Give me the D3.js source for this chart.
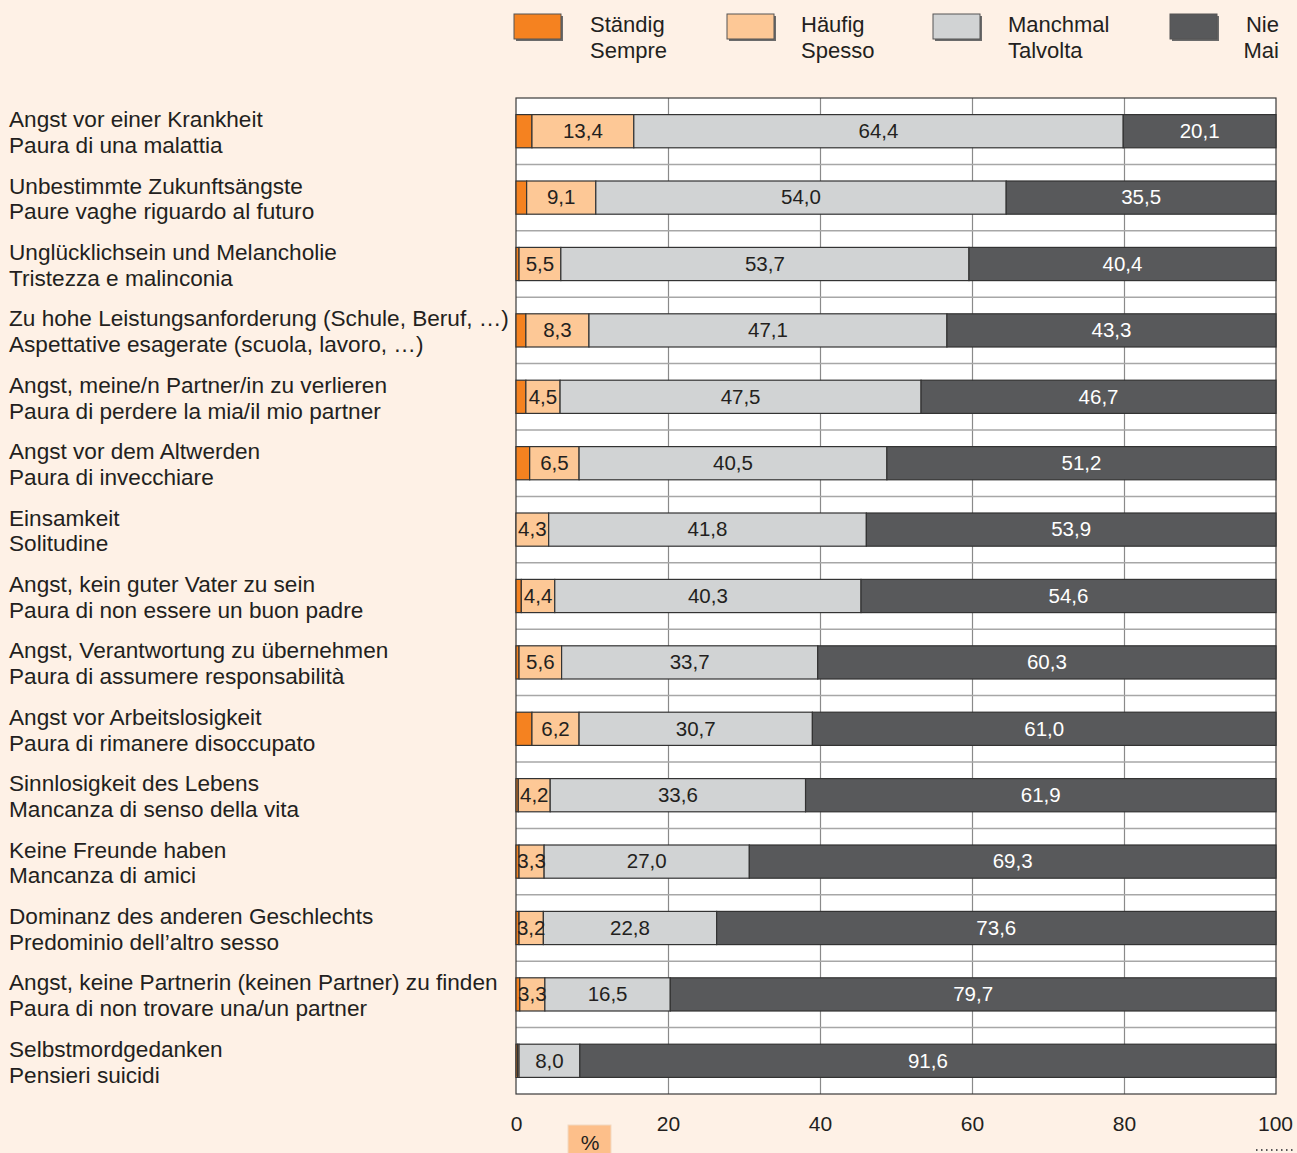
<!DOCTYPE html>
<html>
<head>
<meta charset="utf-8">
<title>Ängste / Paure</title>
<script src="https://cdn.jsdelivr.net/npm/d3@7"></script>
<style>
  body { margin: 0; background: #fef1e6; }
  svg { display: block; font-family: "Liberation Sans", Arial, sans-serif; }
</style>
</head>
<body>
<svg id="chart" width="1297" height="1153"></svg>
<script>
// categories (German / Italian)
var labelsDe = [
  'Angst vor einer Krankheit',
  'Unbestimmte Zukunftsängste',
  'Unglücklichsein und Melancholie',
  'Zu hohe Leistungsanforderung (Schule, Beruf, …)',
  'Angst, meine/n Partner/in zu verlieren',
  'Angst vor dem Altwerden',
  'Einsamkeit',
  'Angst, kein guter Vater zu sein',
  'Angst, Verantwortung zu übernehmen',
  'Angst vor Arbeitslosigkeit',
  'Sinnlosigkeit des Lebens',
  'Keine Freunde haben',
  'Dominanz des anderen Geschlechts',
  'Angst, keine Partnerin (keinen Partner) zu finden',
  'Selbstmordgedanken'
];
var labelsIt = [
  'Paura di una malattia',
  'Paure vaghe riguardo al futuro',
  'Tristezza e malinconia',
  'Aspettative esagerate (scuola, lavoro, …)',
  'Paura di perdere la mia/il mio partner',
  'Paura di invecchiare',
  'Solitudine',
  'Paura di non essere un buon padre',
  'Paura di assumere responsabilità',
  'Paura di rimanere disoccupato',
  'Mancanza di senso della vita',
  'Mancanza di amici',
  'Predominio dell’altro sesso',
  'Paura di non trovare una/un partner',
  'Pensieri suicidi'
];

// series values in %
var staendig = [2.1, 1.4, 0.4, 1.3, 1.3, 1.8, 0.0, 0.7, 0.4, 2.1, 0.3, 0.4, 0.4, 0.5, 0.2];
var haeufig  = [13.4, 9.1, 5.5, 8.3, 4.5, 6.5, 4.3, 4.4, 5.6, 6.2, 4.2, 3.3, 3.2, 3.3, 0.2];
var manchmal = [64.4, 54.0, 53.7, 47.1, 47.5, 40.5, 41.8, 40.3, 33.7, 30.7, 33.6, 27.0, 22.8, 16.5, 8.0];
var nie      = [20.1, 35.5, 40.4, 43.3, 46.7, 51.2, 53.9, 54.6, 60.3, 61.0, 61.9, 69.3, 73.6, 79.7, 91.6];

var xTicks = [0, 20, 40, 60, 80, 100];

var seriesKeys = ['staendig', 'haeufig', 'manchmal', 'nie'];
var seriesDe = ['Ständig', 'Häufig', 'Manchmal', 'Nie'];
var seriesIt = ['Sempre', 'Spesso', 'Talvolta', 'Mai'];
var colors = ['#f58220', '#fdc896', '#d1d3d4', '#58595b'];
var textColors = [null, '#231f20', '#231f20', '#ffffff'];
var showLabel = [false, true, true, true];

// table for the stack
var rows = labelsDe.map(function (d, i) {
  return { id: i, staendig: staendig[i], haeufig: haeufig[i], manchmal: manchmal[i], nie: nie[i] };
});

var svg = d3.select('#chart');
var plot = { left: 516, right: 1276, top: 98, bottom: 1094 };

var x = d3.scaleLinear().domain([0, 100]).range([plot.left, plot.right]);
var y = d3.scaleBand()
  .domain(rows.map(d => d.id))
  .range([plot.top, plot.bottom])
  .paddingInner(0.5)
  .paddingOuter(0.25);

//plot background
svg.append('rect')
  .attr('x', plot.left).attr('y', plot.top)
  .attr('width', plot.right - plot.left).attr('height', plot.bottom - plot.top)
  .attr('fill', '#ffffff');

//vertical gridlines
svg.append('g').selectAll('line')
  .data(xTicks.slice(1, -1))
  .enter().append('line')
  .attr('x1', d => x(d) + 0.5).attr('x2', d => x(d) + 0.5)
  .attr('y1', plot.top).attr('y2', plot.bottom)
  .attr('stroke', '#8a8a8a').attr('stroke-width', 1.2);

//row separators
var step = y.step();
svg.append('g').selectAll('line')
  .data(rows.slice(0, -1))
  .enter().append('line')
  .attr('x1', plot.left).attr('x2', plot.right)
  .attr('y1', d => y(d.id) + y.bandwidth() + step * 0.25)
  .attr('y2', d => y(d.id) + y.bandwidth() + step * 0.25)
  .attr('stroke', '#a7a7a7').attr('stroke-width', 1.5);

//plot frame
svg.append('rect')
  .attr('x', plot.left).attr('y', plot.top)
  .attr('width', plot.right - plot.left).attr('height', plot.bottom - plot.top)
  .attr('fill', 'none').attr('stroke', '#3a3a3a').attr('stroke-width', 1.2);

//stacked bars
var stack = d3.stack().keys(seriesKeys)(rows);

var layers = svg.append('g').selectAll('g')
  .data(stack)
  .enter().append('g')
  .attr('fill', (d, i) => colors[i]);

layers.selectAll('rect')
  .data(d => d)
  .enter().append('rect')
  .attr('x', d => x(d[0]))
  .attr('y', d => y(d.data.id))
  .attr('width', d => x(d[1]) - x(d[0]))
  .attr('height', y.bandwidth())
  .attr('stroke', '#333333')
  .attr('stroke-width', 1.2);

//value labels
stack.forEach(function (layer, i) {
  if (!showLabel[i]) return;
  svg.append('g').selectAll('text')
    .data(layer.filter(d => d[1] - d[0] > 0.5))
    .enter().append('text')
    .attr('x', d => (x(d[0]) + x(d[1])) / 2)
    .attr('y', d => y(d.data.id) + y.bandwidth() / 2)
    .attr('dy', '0.33em')
    .attr('text-anchor', 'middle')
    .attr('font-size', 20.5)
    .attr('fill', textColors[i])
    .text(d => d3.format('.1f')(d[1] - d[0]).replace('.', ','));
});

//category labels
var cat = svg.append('g').selectAll('text')
  .data(rows)
  .enter().append('text')
  .attr('font-size', 22.6)
  .attr('fill', '#231f20');
cat.append('tspan')
  .attr('x', 9)
  .attr('y', d => y(d.id) + y.bandwidth() / 2 - 4)
  .text(d => labelsDe[d.id]);
cat.append('tspan')
  .attr('x', 9)
  .attr('y', d => y(d.id) + y.bandwidth() / 2 + 21.7)
  .text(d => labelsIt[d.id]);

//x axis labels
var axis = svg.append('g')
  .attr('transform', 'translate(0,' + plot.bottom + ')')
  .call(d3.axisBottom(x).tickValues(xTicks).tickSize(0).tickPadding(22));
axis.select('.domain').remove();
axis.selectAll('text')
  .attr('font-size', 21)
  .attr('font-family', '"Liberation Sans", Arial, sans-serif')
  .attr('fill', '#231f20');
axis.selectAll('.tick').filter(d => d === 100).select('text').attr('x', -1);

//unit box
svg.append('rect')
  .attr('x', 568).attr('y', 1125)
  .attr('width', 43).attr('height', 30)
  .attr('fill', '#fdbf8a').attr('stroke', '#f2d9c2').attr('stroke-width', 1);
svg.append('text')
  .attr('x', 590).attr('y', 1150)
  .attr('text-anchor', 'middle')
  .attr('font-size', 21)
  .attr('fill', '#231f20')
  .text('%');

//dotted marker
svg.append('line')
  .attr('x1', 1256).attr('x2', 1294)
  .attr('y1', 1150).attr('y2', 1150)
  .attr('stroke', '#555').attr('stroke-width', 2)
  .attr('stroke-dasharray', '1.5,3.5');

//legend
var legendBoxX = [514, 727, 933, 1170];
var legendTextX = [590, 801, 1008, 1279];
var leg = svg.append('g').selectAll('g')
  .data(seriesKeys)
  .enter().append('g');
leg.append('rect')
  .attr('x', (d, i) => legendBoxX[i] + 2).attr('y', 16)
  .attr('width', 47).attr('height', 25)
  .attr('fill', '#6b6b6b');
leg.append('rect')
  .attr('x', (d, i) => legendBoxX[i]).attr('y', 14)
  .attr('width', 47).attr('height', 25)
  .attr('fill', (d, i) => colors[i])
  .attr('stroke', '#555').attr('stroke-width', 1);
var legText = leg.append('text')
  .attr('font-size', 22)
  .attr('fill', '#231f20')
  .attr('text-anchor', (d, i) => i === 3 ? 'end' : 'start');
legText.append('tspan')
  .attr('x', (d, i) => legendTextX[i]).attr('y', 32)
  .text((d, i) => seriesDe[i]);
legText.append('tspan')
  .attr('x', (d, i) => legendTextX[i]).attr('y', 58)
  .text((d, i) => seriesIt[i]);
</script>
</body>
</html>
